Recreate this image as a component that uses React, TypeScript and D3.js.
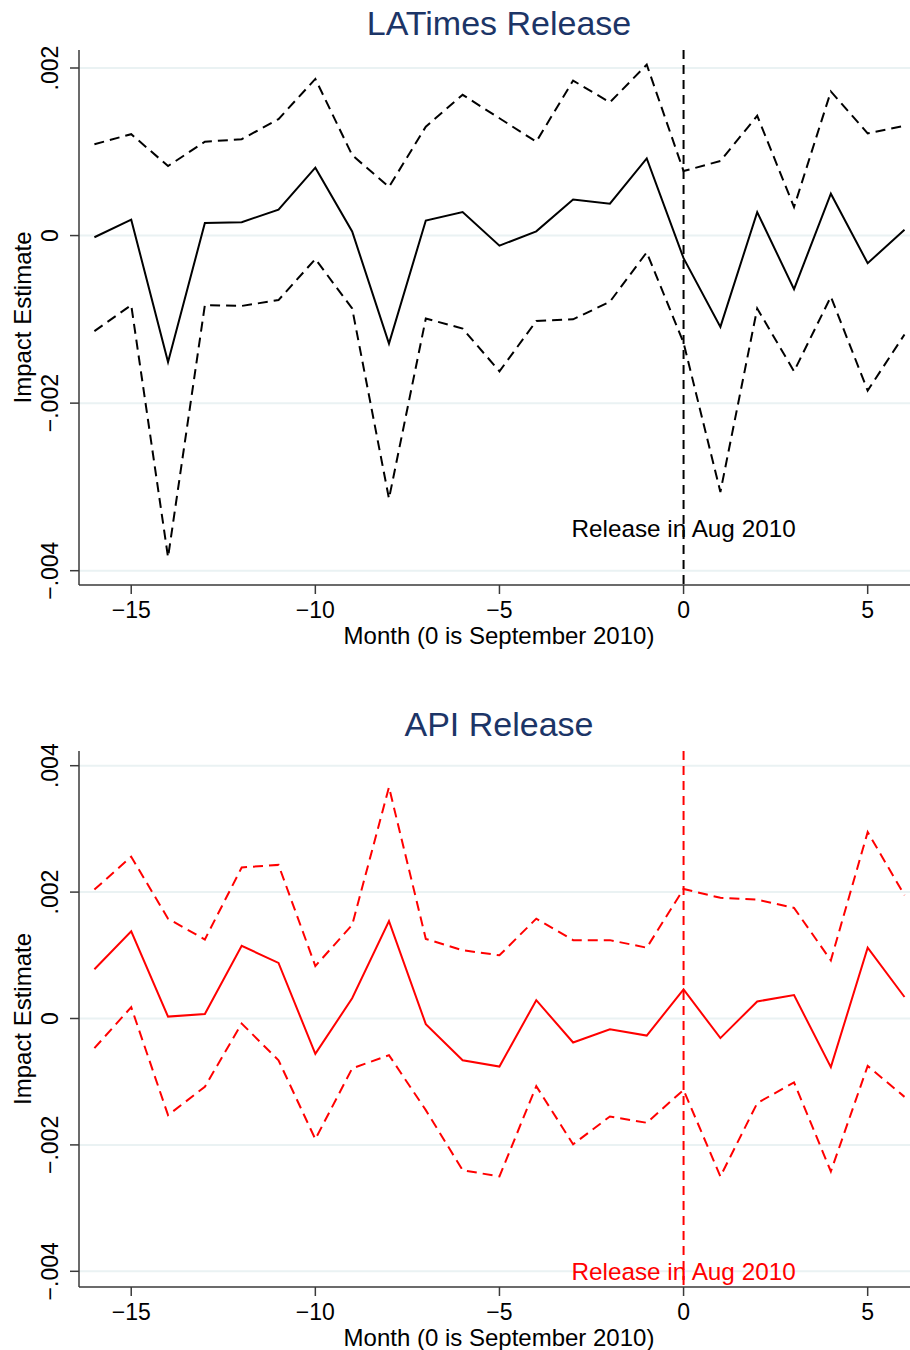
import * as d3 from 'd3';

// Month relative to September 2010
const months = [-16, -15, -14, -13, -12, -11, -10, -9, -8, -7, -6, -5, -4, -3, -2, -1, 0, 1, 2, 3, 4, 5, 6];
const xTicks = [-15, -10, -5, 0, 5];

// LATimes release: point estimate and confidence bounds
const latEst = [-0.00002, 0.00019, -0.00151, 0.00015, 0.00016, 0.00031, 0.00081, 0.00005, -0.00129, 0.00018, 0.00028, -0.00012, 0.00005, 0.00043, 0.00038, 0.00092, -0.00027, -0.00109, 0.00028, -0.00064, 0.0005, -0.00033, 0.00007];
const latHi = [0.00109, 0.00121, 0.00083, 0.00112, 0.00115, 0.00139, 0.00187, 0.00096, 0.00058, 0.0013, 0.00168, 0.0014, 0.00112, 0.00185, 0.00159, 0.00204, 0.00077, 0.00089, 0.00143, 0.00034, 0.00172, 0.00122, 0.00131];
const latLo = [-0.00114, -0.00083, -0.00384, -0.00083, -0.00084, -0.00077, -0.00028, -0.00087, -0.00314, -0.00099, -0.00111, -0.00162, -0.00102, -0.001, -0.00079, -0.0002, -0.00128, -0.00306, -0.00087, -0.00162, -0.00073, -0.00185, -0.00118];
const latTicks = [0.002, 0, -0.002, -0.004];
const latTickLabels = ['.002', '0', '-.002', '-.004'];

// API release
const apiEst = [0.00078, 0.00138, 0.00003, 0.00007, 0.00115, 0.00088, -0.00056, 0.00032, 0.00154, -0.00009, -0.00066, -0.00076, 0.00029, -0.00038, -0.00017, -0.00027, 0.00046, -0.00031, 0.00027, 0.00037, -0.00077, 0.00112, 0.00034];
const apiHi = [0.00204, 0.00256, 0.00158, 0.00125, 0.00239, 0.00243, 0.00083, 0.00148, 0.00366, 0.00126, 0.00108, 0.001, 0.00158, 0.00124, 0.00124, 0.00112, 0.00205, 0.00191, 0.00188, 0.00175, 0.00092, 0.00295, 0.00195];
const apiLo = [-0.00047, 0.00018, -0.00153, -0.00108, -0.00008, -0.00066, -0.00191, -0.00079, -0.00058, -0.00145, -0.0024, -0.0025, -0.00107, -0.00199, -0.00155, -0.00165, -0.00113, -0.0025, -0.00134, -0.00101, -0.00242, -0.00075, -0.00124];
const apiTicks = [0.004, 0.002, 0, -0.002, -0.004];
const apiTickLabels = ['.004', '.002', '0', '-.002', '-.004'];

const FONT = '"Liberation Sans", Arial, Helvetica, sans-serif';
const TITLE_COLOR = '#1c3567';
const GRID_COLOR = '#eaf2f3';
const AXIS_COLOR = '#3a3a3a';

interface PanelProps {
  title: string;
  top: number;        // y of axis top
  bottom: number;     // y of axis bottom
  yDomain: [number, number];
  yRange: [number, number];
  est: number[];
  hi: number[];
  lo: number[];
  ticks: number[];
  tickLabels: string[];
  color: string;
  noteValue: number;
}

const AXIS_X = 79;
const RIGHT = 910;
const CENTER_X = 499;

function Panel({ title, top, bottom, yDomain, yRange, est, hi, lo, ticks, tickLabels, color, noteValue }: PanelProps) {
  const x = d3.scaleLinear().domain([-16, 6]).range([94.4, 904.5]);
  const y = d3.scaleLinear().domain(yDomain).range(yRange);

  const line = d3.line<number>()
    .x((_, i) => x(months[i]))
    .y(d => y(d));

  const fmt = (s: string) => s.replace('-', '\u2212');

  return (
    <g>
      <text x={CENTER_X} y={top - 15} textAnchor="middle" fontSize={34} fill={TITLE_COLOR} fontFamily={FONT}>
        {title}
      </text>

      {/* grid lines */}
      {ticks.map(t => (
        <line key={`g${t}`} x1={AXIS_X} x2={RIGHT} y1={y(t)} y2={y(t)} stroke={GRID_COLOR} strokeWidth={2} />
      ))}

      {/* series */}
      <path d={line(hi) ?? ''} fill="none" stroke={color} strokeWidth={2} strokeDasharray="10,6" />
      <path d={line(lo) ?? ''} fill="none" stroke={color} strokeWidth={2} strokeDasharray="10,6" />
      <path d={line(est) ?? ''} fill="none" stroke={color} strokeWidth={2} strokeLinejoin="miter" />

      {/* release line */}
      <line x1={x(0)} x2={x(0)} y1={top} y2={bottom} stroke={color} strokeWidth={2} strokeDasharray="9,6" />
      <text x={x(0)} y={y(noteValue)} textAnchor="middle" fontSize={24.3} fill={color} fontFamily={FONT}>
        Release in Aug 2010
      </text>

      {/* y axis */}
      <line x1={AXIS_X} x2={AXIS_X} y1={top} y2={bottom} stroke={AXIS_COLOR} strokeWidth={1.5} />
      {ticks.map((t, i) => (
        <g key={`y${t}`}>
          <line x1={AXIS_X - 9} x2={AXIS_X} y1={y(t)} y2={y(t)} stroke={AXIS_COLOR} strokeWidth={1.5} />
          <text
            transform={`translate(58,${y(t)}) rotate(-90)`}
            textAnchor="middle"
            fontSize={23}
            fill="#000"
            fontFamily={FONT}
          >
            {fmt(tickLabels[i])}
          </text>
        </g>
      ))}
      <text
        transform={`translate(31,${(top + bottom) / 2}) rotate(-90)`}
        textAnchor="middle"
        fontSize={24}
        fill="#000"
        fontFamily={FONT}
      >
        Impact Estimate
      </text>

      {/* x axis */}
      <line x1={AXIS_X} x2={RIGHT} y1={bottom} y2={bottom} stroke={AXIS_COLOR} strokeWidth={1.5} />
      {xTicks.map(t => (
        <g key={`x${t}`}>
          <line x1={x(t)} x2={x(t)} y1={bottom} y2={bottom + 9} stroke={AXIS_COLOR} strokeWidth={1.5} />
          <text x={x(t)} y={bottom + 33} textAnchor="middle" fontSize={23} fill="#000" fontFamily={FONT}>
            {fmt(String(t))}
          </text>
        </g>
      ))}
      <text x={CENTER_X} y={bottom + 59} textAnchor="middle" fontSize={24} fill="#000" fontFamily={FONT}>
        Month (0 is September 2010)
      </text>
    </g>
  );
}

export default function App() {
  return (
    <div style={{ position: 'absolute', left: 0, top: 0 }}>
      <svg width={910} height={1350} style={{ display: 'block', background: '#fff' }}>
        <rect width={910} height={1350} fill="#fff" />
        <Panel
          title="LATimes Release"
          top={50}
          bottom={585}
          yDomain={[-0.004, 0.002]}
          yRange={[570.7, 68]}
          est={latEst}
          hi={latHi}
          lo={latLo}
          ticks={latTicks}
          tickLabels={latTickLabels}
          color="#000"
          noteValue={-0.0036}
        />
        <Panel
          title="API Release"
          top={751}
          bottom={1287}
          yDomain={[-0.004, 0.004]}
          yRange={[1271.3, 765.7]}
          est={apiEst}
          hi={apiHi}
          lo={apiLo}
          ticks={apiTicks}
          tickLabels={apiTickLabels}
          color="#ff0000"
          noteValue={-0.00413}
        />
      </svg>
    </div>
  );
}
